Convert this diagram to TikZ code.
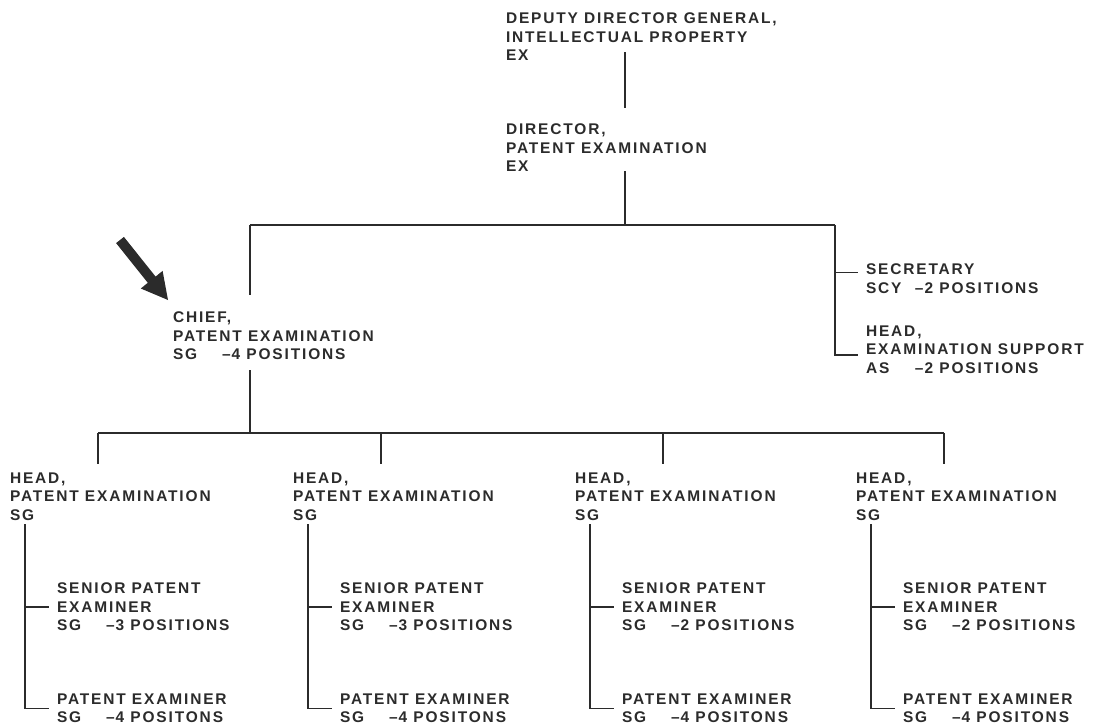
\documentclass[tikz,border=0pt]{standalone}
\usepackage{fontspec}
\setmainfont{Liberation Sans}[LetterSpace=12]
\usetikzlibrary{calc}
\definecolor{ink}{HTML}{2B2B2B}
\newcommand\orgpos[2]{\makebox[36.75pt][l]{#1}–\kern0.8pt#2}
\begin{document}
\begin{tikzpicture}[x=0.75pt,y=-0.75pt,
  lbl/.style={anchor=north west, inner sep=0pt, outer sep=0pt, align=left,
              text=ink, font=\fontsize{11.6}{13.7}\selectfont\bfseries},
  conn/.style={draw=ink, line width=1.2pt},
  pointer/.style={fill=ink}]
\useasboundingbox (0,0) rectangle (1094,725);

% nodes
\node[lbl] (ddg)   at (506,13)  {DEPUTY DIRECTOR GENERAL,\\INTELLECTUAL PROPERTY\\EX};
\node[lbl] (dir)   at (506,124) {DIRECTOR,\\PATENT EXAMINATION\\EX};
\node[lbl] (chief) at (173,312) {CHIEF,\\PATENT EXAMINATION\\\orgpos{SG}{4 POSITIONS}};
\node[lbl] (secy)  at (866,264) {SECRETARY\\\orgpos{SCY}{2 POSITIONS}};
\node[lbl] (exsup) at (866,326) {HEAD,\\EXAMINATION SUPPORT\\\orgpos{AS}{2 POSITIONS}};

\foreach \i/\x/\n in {1/10/3, 2/293/3, 3/575/2, 4/856/2}{
  \node[lbl] (h\i) at (\x,473) {HEAD,\\PATENT EXAMINATION\\SG};
  \node[lbl] (s\i) at (\x+47,583) {SENIOR PATENT\\EXAMINER\\\orgpos{SG}{\n\ POSITIONS}};
  \node[lbl] (e\i) at (\x+47,694) {PATENT EXAMINER\\\orgpos{SG}{4 POSITONS}};
  \coordinate (b\i) at (\x+88,433);
  \coordinate (v\i) at ($(h\i.south west)+(15,4)$);
}

% junctions
\coordinate (spine) at (625,225);
\coordinate (busL)  at (250,225);
\coordinate (busR)  at (835,225);

% connectors
\draw[conn, shorten <=-6pt, shorten >=12pt] (ddg.south -| spine) -- (dir.north -| spine);
\draw[conn] (dir.south -| spine) -- (spine);
\draw[conn] (busL) -- (busR);
\draw[conn, shorten >=12.75pt] (busL) -- (busL |- chief.north);
\draw[conn] (busR) |- ([xshift=-6pt, yshift=4.5pt]secy.west);
\draw[conn] (busR) |- ([xshift=-6pt, yshift=-4pt]exsup.west);
\draw[conn, shorten <=8.25pt] (chief.south -| busL) -- (busL |- b1);
\draw[conn] (b1) -- (b4);
\foreach \i in {1,2,3,4}{
  \draw[conn, shorten >=6.75pt] (b\i) -- (b\i |- h\i.north);
  \draw[conn] (v\i) |- ([xshift=-6pt]e\i.west);
  \draw[conn] (v\i |- s\i.west) -- ([xshift=-6pt]s\i.west);
}

% pointer arrow
\fill[pointer] (123.9,236.9) -- (155.6,276.6) -- (162.6,270.9) -- (168,300)
  -- (140.8,288.5) -- (147.8,282.8) -- (116.1,243.1) -- cycle;
\end{tikzpicture}
\end{document}
